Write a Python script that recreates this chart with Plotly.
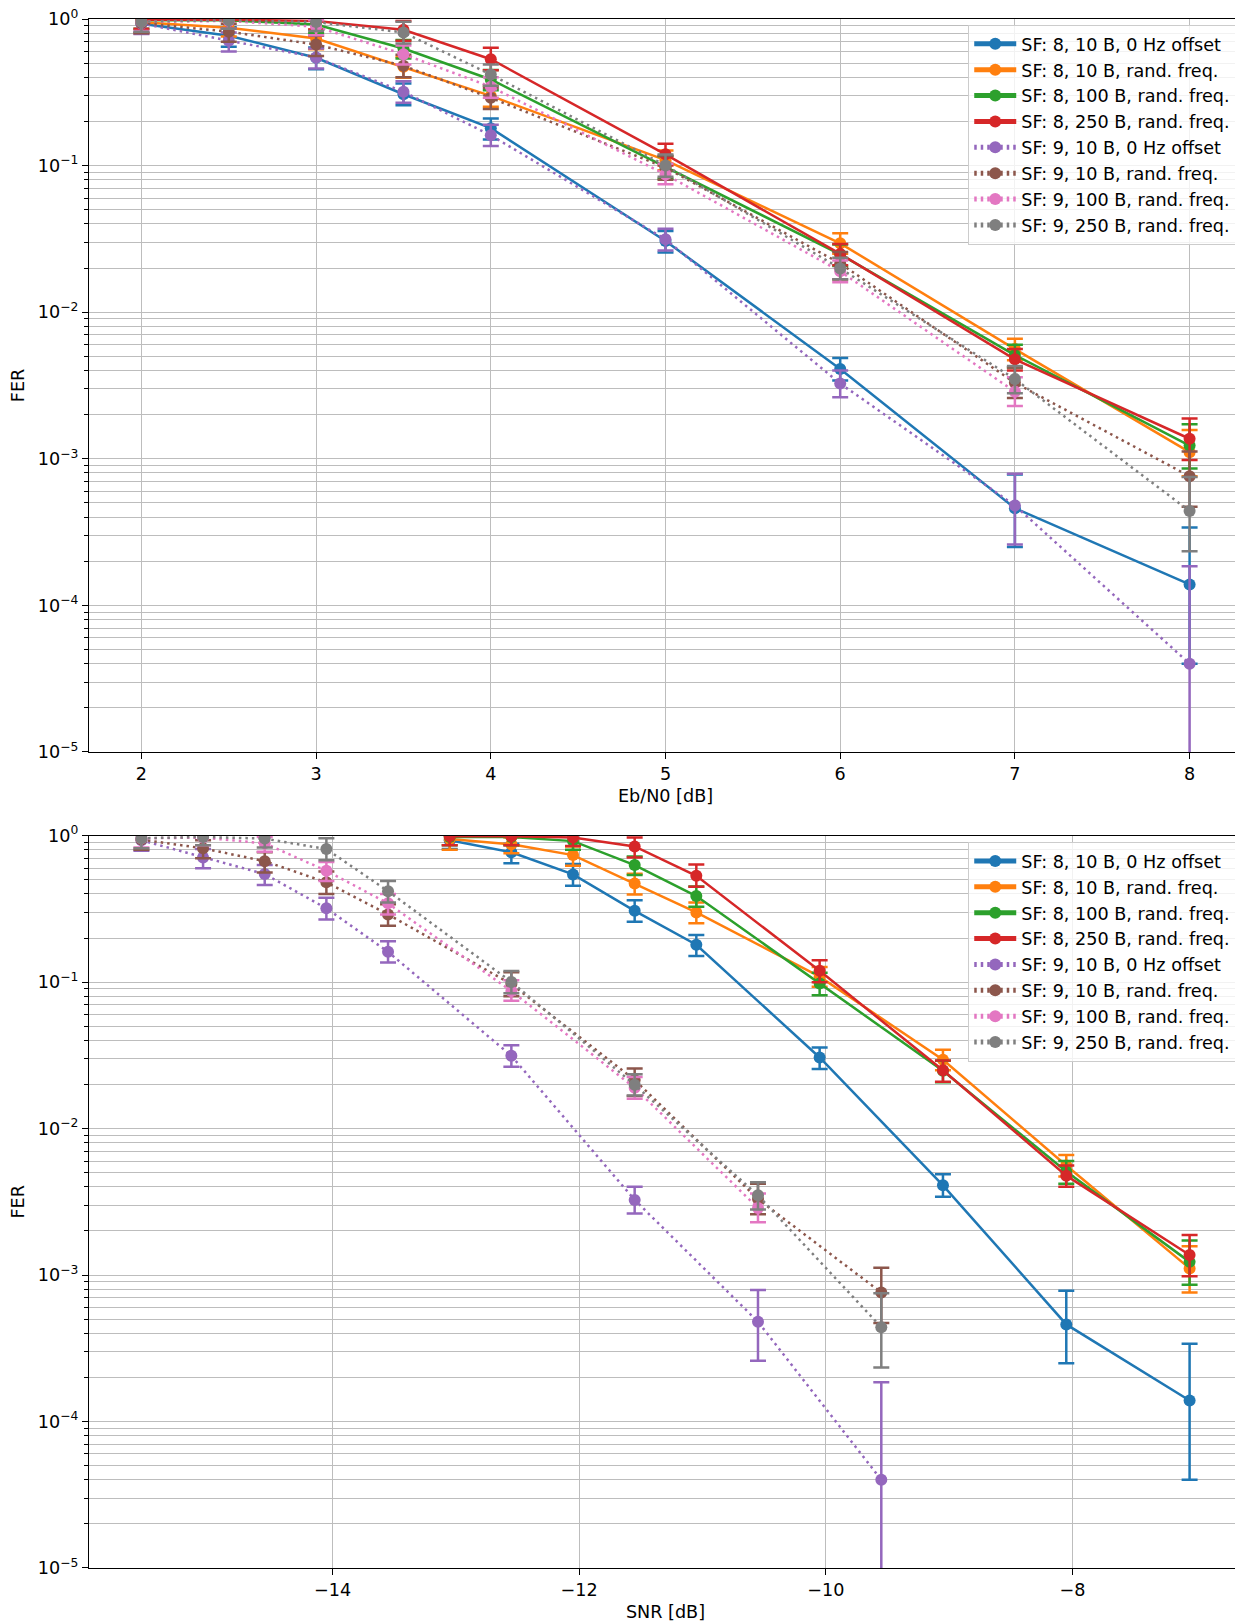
import plotly.graph_objects as go

# ---------------- data ----------------
EBN0 = [2, 2.5, 3, 3.5, 4, 5, 6, 7, 8]
SNR_SF8 = [-13.05, -12.55, -12.05, -11.55, -11.05, -10.05, -9.05, -8.05, -7.05]
SNR_SF9 = [-15.55, -15.05, -14.55, -14.05, -13.55, -12.55, -11.55, -10.55, -9.55]

NAMES = [
    "SF: 8, 10 B, 0 Hz offset",
    "SF: 8, 10 B, rand. freq.",
    "SF: 8, 100 B, rand. freq.",
    "SF: 8, 250 B, rand. freq.",
    "SF: 9, 10 B, 0 Hz offset",
    "SF: 9, 10 B, rand. freq.",
    "SF: 9, 100 B, rand. freq.",
    "SF: 9, 250 B, rand. freq.",
]
SF_OF_SERIES = [8, 8, 8, 8, 9, 9, 9, 9]

fer_sf8_10b_0hz = [0.93, 0.77, 0.544, 0.307, 0.180, 0.0306, 0.0041, 0.00046, 0.000139]
fer_sf8_10b_rand = [0.95, 0.873, 0.737, 0.472, 0.299, 0.109, 0.0295, 0.0056, 0.00111]
fer_sf8_100b_rand = [0.98, 0.98, 0.918, 0.63, 0.387, 0.098, 0.0248, 0.0051, 0.00123]
fer_sf8_250b_rand = [0.99, 0.99, 0.97, 0.845, 0.532, 0.1194, 0.0250, 0.00477, 0.00137]
fer_sf9_10b_0hz = [0.93, 0.71, 0.547, 0.319, 0.161, 0.0314, 0.00326, 0.00048, 0.000040]
fer_sf9_10b_rand = [0.94, 0.82, 0.67, 0.48, 0.29, 0.097, 0.0215, 0.0033, 0.00076]
fer_sf9_100b_rand = [0.96, 0.97, 0.886, 0.576, 0.345, 0.087, 0.0190, 0.00287, None]
fer_sf9_250b_rand = [0.96, 0.98, 0.955, 0.81, 0.418, 0.1003, 0.0199, 0.0035, 0.00044]

hi_sf8_10b_0hz = [1.04, 0.88, 0.64, 0.363, 0.21, 0.0358, 0.00487, 0.00078, 0.00034]
lo_sf8_10b_0hz = [0.81, 0.647, 0.455, 0.258, 0.151, 0.0255, 0.00342, 0.00025, 0.000040]
hi_sf8_10b_rand = [1.05, 0.97, 0.845, 0.55, 0.35, 0.127, 0.0345, 0.0066, 0.00157]
lo_sf8_10b_rand = [0.80, 0.76, 0.623, 0.397, 0.252, 0.093, 0.0250, 0.0047, 0.00076]
hi_sf8_100b_rand = [1.05, 1.05, 1.02, 0.72, 0.45, 0.116, 0.0290, 0.0060, 0.00172]
lo_sf8_100b_rand = [0.86, 0.86, 0.80, 0.538, 0.327, 0.0815, 0.0207, 0.0042, 0.00086]
hi_sf8_250b_rand = [1.05, 1.05, 1.05, 0.97, 0.636, 0.141, 0.0292, 0.0056, 0.00188]
lo_sf8_250b_rand = [0.86, 0.86, 0.85, 0.71, 0.448, 0.100, 0.0209, 0.0040, 0.00098]
hi_sf9_10b_0hz = [1.05, 0.81, 0.63, 0.377, 0.19, 0.0371, 0.0040, 0.00079, 0.000185]
lo_sf9_10b_0hz = [0.79, 0.60, 0.46, 0.268, 0.136, 0.0264, 0.00263, 0.00026, 1e-9]
hi_sf9_10b_rand = [1.05, 0.93, 0.77, 0.57, 0.34, 0.117, 0.0257, 0.0042, 0.00112]
lo_sf9_10b_rand = [0.80, 0.70, 0.56, 0.40, 0.243, 0.080, 0.0167, 0.0026, 0.00047]
hi_sf9_100b_rand = [1.05, 1.05, 0.98, 0.66, 0.40, 0.103, 0.0225, 0.0036, None]
lo_sf9_100b_rand = [0.83, 0.86, 0.776, 0.49, 0.29, 0.0745, 0.0160, 0.00229, None]
hi_sf9_250b_rand = [1.05, 1.05, 1.05, 0.96, 0.49, 0.119, 0.0235, 0.0043, 0.00075]
lo_sf9_250b_rand = [0.82, 0.86, 0.83, 0.68, 0.35, 0.084, 0.0168, 0.0028, 0.000234]

FER = [fer_sf8_10b_0hz, fer_sf8_10b_rand, fer_sf8_100b_rand, fer_sf8_250b_rand,
       fer_sf9_10b_0hz, fer_sf9_10b_rand, fer_sf9_100b_rand, fer_sf9_250b_rand]
HI = [hi_sf8_10b_0hz, hi_sf8_10b_rand, hi_sf8_100b_rand, hi_sf8_250b_rand,
      hi_sf9_10b_0hz, hi_sf9_10b_rand, hi_sf9_100b_rand, hi_sf9_250b_rand]
LO = [lo_sf8_10b_0hz, lo_sf8_10b_rand, lo_sf8_100b_rand, lo_sf8_250b_rand,
      lo_sf9_10b_0hz, lo_sf9_10b_rand, lo_sf9_100b_rand, lo_sf9_250b_rand]

Y_TICKVALS = [1e-5, 1e-4, 1e-3, 1e-2, 1e-1, 1]
Y_TICKTEXT = ["10<sup>\u22125</sup>", "10<sup>\u22124</sup>", "10<sup>\u22123</sup>",
              "10<sup>\u22122</sup>", "10<sup>\u22121</sup>", "10<sup>0</sup>"]
X1_TICKS = [2, 3, 4, 5, 6, 7, 8]
X2_TICKS = [-14, -12, -10, -8]
X2_TICKTEXT = ["\u221214", "\u221212", "\u221210", "\u22128"]

# ---------------- style ----------------
COLORS = ["#1f77b4", "#ff7f0e", "#2ca02c", "#d62728",
          "#9467bd", "#8c564b", "#e377c2", "#7f7f7f"]
FONT = "DejaVu Sans"
FS = 17.6
LW = 2.5
GRID = "#bdbdbd"

minor_vals = [m * 10.0 ** e for e in range(-5, 0) for m in range(2, 10)]

fig = go.Figure()

for i in range(8):
    y = FER[i]
    up = [None if (v is None or h is None) else h - v for v, h in zip(y, HI[i])]
    dn = [None if (v is None or l is None) else v - l for v, l in zip(y, LO[i])]
    dash = "solid" if SF_OF_SERIES[i] == 8 else "2.5px,4px"
    snr = SNR_SF8 if SF_OF_SERIES[i] == 8 else SNR_SF9
    for (xs, xa, ya, lg) in [(EBN0, "x", "y", "legend"), (snr, "x2", "y2", "legend2")]:
        fig.add_trace(go.Scatter(
            x=xs, y=y, name=NAMES[i], mode="lines+markers",
            xaxis=xa, yaxis=ya, legend=lg,
            line=dict(color=COLORS[i], width=LW, dash=dash),
            marker=dict(color=COLORS[i], size=12, symbol="circle"),
            error_y=dict(type="data", symmetric=False, array=up, arrayminus=dn,
                         color=COLORS[i], thickness=2.5, width=8),
            connectgaps=False,
        ))

axis_common = dict(
    showline=True, mirror=True, linecolor="black", linewidth=1.3,
    ticks="outside", ticklen=6, tickwidth=1.3, tickcolor="black",
    showgrid=True, gridcolor=GRID, gridwidth=1.3, zeroline=False,
    tickfont=dict(family=FONT, size=FS, color="black"),
    automargin=False, ticklabeloverflow="allow",
)

yaxis_common = dict(
    axis_common, type="log", range=[-5.0003, 0.0003],
    tickvals=Y_TICKVALS, ticktext=Y_TICKTEXT,
    minor=dict(tickvals=minor_vals, showgrid=True, gridcolor=GRID, gridwidth=1.3,
               ticks="outside", ticklen=3.5, tickwidth=1, tickcolor="black"),
    title=dict(text="FER", font=dict(family=FONT, size=FS, color="black"), standoff=14),
)

legend_common = dict(
    font=dict(family=FONT, size=FS, color="black"),
    bgcolor="rgba(255,255,255,0.8)", bordercolor="#cccccc", borderwidth=1,
    xanchor="right", yanchor="top", x=0.995,
    tracegroupgap=0, itemsizing="constant", itemwidth=42,
)

# page has an 8px body margin, so the figure is 8px smaller than the window
fig.update_layout(
    width=1235, height=1614,
    margin=dict(l=81, r=1, t=11, b=54),
    paper_bgcolor="white", plot_bgcolor="white",
    font=dict(family=FONT, size=FS, color="black"),
    showlegend=True,
    xaxis=dict(axis_common, domain=[0, 1], anchor="y", range=[1.7, 8.3],
               tickvals=X1_TICKS,
               title=dict(text="Eb/N0 [dB]", font=dict(family=FONT, size=FS, color="black"), standoff=6)),
    yaxis=dict(yaxis_common, domain=[0.5268, 1], anchor="x"),
    xaxis2=dict(axis_common, domain=[0, 1], anchor="y2", range=[-15.975, -6.625],
                tickvals=X2_TICKS, ticktext=X2_TICKTEXT,
                title=dict(text="SNR [dB]", font=dict(family=FONT, size=FS, color="black"), standoff=6)),
    yaxis2=dict(yaxis_common, domain=[0, 0.4728], anchor="x2"),
    legend=dict(legend_common, y=0.9962),
    legend2=dict(legend_common, y=0.4687),
)

fig.write_html("out.html")
